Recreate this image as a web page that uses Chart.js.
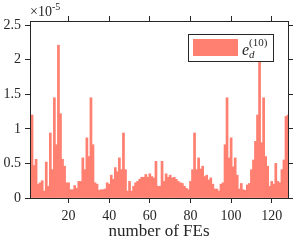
<!DOCTYPE html>
<html>
<head>
<meta charset="utf-8">
<script src="https://cdn.jsdelivr.net/npm/chart.js@4"></script>
<style>
  html, body { margin: 0; padding: 0; background: #fff; }
  canvas { display: block; }
</style>
</head>
<body>
<canvas id="chart" width="294" height="243"></canvas>
<script>
/* error per FE, in units of 1e-5 */
const errValues = [
  1.18, 1.20, 0.47, 0.56, 0.20, 0.22, 0.25, 0.10, 0.52, 0.17,
  0.94, 0.41, 1.45, 0.77, 2.21, 1.22, 0.56, 0.46, 0.22, 0.22,
  0.12, 0.12, 0.18, 0.14, 0.24, 0.24, 0.58, 0.41, 0.87, 0.60,
  1.45, 0.77, 0.22, 0.20, 0.11, 0.12, 0.12, 0.13, 0.22, 0.20,
  0.33, 0.27, 0.44, 0.38, 0.58, 0.41, 0.94, 0.41, 0.10, 0.24,
  0.10, 0.17, 0.22, 0.24, 0.27, 0.30, 0.30, 0.34, 0.30, 0.35,
  0.31, 0.29, 0.53, 0.17, 0.17, 0.53, 0.24, 0.35, 0.30, 0.33,
  0.29, 0.30, 0.27, 0.24, 0.22, 0.21, 0.17, 0.14, 0.12, 0.24,
  0.41, 0.94, 0.41, 0.58, 0.42, 0.46, 0.31, 0.33, 0.26, 0.29,
  0.20, 0.13, 0.13, 0.10, 0.20, 0.22, 0.77, 1.45, 0.58, 0.87,
  0.45, 0.58, 0.33, 0.13, 0.21, 0.12, 0.11, 0.19, 0.21, 0.41,
  0.55, 0.82, 1.20, 2.20, 0.80, 1.45, 0.60, 0.46, 0.17, 0.24,
  0.20, 0.50, 0.24, 0.22, 0.41, 0.55, 1.18, 1.20
];
const feIndex = errValues.map((v, i) => i + 1);
const xTicks = [20, 40, 60, 80, 100, 120];
const yTicks = [0, 0.5, 1, 1.5, 2, 2.5];
const xRange = [1, 128];
const yRange = [0, 2.56];

const barColor = 'rgb(255,127,112)';
const axisColor = '#262626';

Chart.defaults.font.family = '"Liberation Serif", "Times New Roman", serif';
Chart.defaults.font.size = 14;
Chart.defaults.color = axisColor;

function setTicks(list) {
    return scale => { scale.ticks = list.map(v => ({ value: v })); };
}

// shared look for the four sides of the box
function sideAxis(extra) {
    return Object.assign({
        type: 'linear',
        offset: false,
        grid: { drawOnChartArea: false, offset: false, tickLength: 5, color: axisColor, lineWidth: 1 },
        border: { display: true, color: axisColor, width: 1, z: 1 }
    }, extra);
}

// legend and the x10^-5 exponent label
const overlay = {
    id: 'overlay',
    afterDraw(chart) {
        const ctx = chart.ctx;
        const a = chart.chartArea;
        const w = 85, h = 27;
        const x = Math.round(a.right - 15 - w), y = Math.round(a.top + 13);
        ctx.save();
        ctx.fillStyle = '#fff';
        ctx.fillRect(x, y, w, h);
        ctx.strokeStyle = axisColor;
        ctx.lineWidth = 1;
        ctx.strokeRect(x + 0.5, y + 0.5, w, h);
        ctx.fillStyle = barColor;
        ctx.fillRect(x + 5, y + 5, 45, 17);

        ctx.fillStyle = axisColor;
        ctx.textBaseline = 'alphabetic';
        ctx.font = 'italic 16px "Liberation Serif"';
        ctx.fillText('e', x + 54, y + 21);
        ctx.font = 'italic 11px "Liberation Serif"';
        ctx.fillText('d', x + 61, y + 24);
        ctx.font = '11px "Liberation Serif"';
        ctx.fillText('(10)', x + 61, y + 12);

        ctx.font = '14px "Liberation Serif"';
        ctx.fillText('\u00d710', a.left, 16);
        ctx.font = '10px "Liberation Serif"';
        ctx.fillText('-5', a.left + 22, 10);
        ctx.restore();
    }
};

new Chart(document.getElementById('chart'), {
    type: 'bar',
    data: {
        datasets: [{
            label: 'e_d^(10)',
            data: feIndex.map((x, i) => ({ x: x, y: errValues[i] })),
            backgroundColor: barColor,
            borderWidth: 0,
            barPercentage: 1,
            categoryPercentage: 1,
            clip: 0
        }]
    },
    options: {
        responsive: false,
        devicePixelRatio: 1,
        animation: false,
        layout: { padding: 0 },
        plugins: { legend: { display: false }, tooltip: { enabled: false } },
        scales: {
            x: sideAxis({
                position: 'bottom', min: xRange[0], max: xRange[1],
                afterBuildTicks: setTicks(xTicks),
                afterFit: s => { s.height = 45; },
                ticks: { padding: 5, maxRotation: 0, autoSkip: false, callback: v => String(v) },
                title: { display: true, text: 'number of FEs', font: { size: 17 }, padding: { top: 0, bottom: 1 } }
            }),
            x2: sideAxis({
                position: 'top', min: xRange[0], max: xRange[1],
                afterBuildTicks: setTicks(xTicks),
                afterFit: s => { s.height = 21; },
                ticks: { display: false }
            }),
            y: sideAxis({
                position: 'left', min: yRange[0], max: yRange[1],
                afterBuildTicks: setTicks(yTicks),
                afterFit: s => { s.width = 30; },
                ticks: { padding: 4, callback: v => String(v) }
            }),
            y2: sideAxis({
                position: 'right', min: yRange[0], max: yRange[1],
                afterBuildTicks: setTicks(yTicks),
                afterFit: s => { s.width = 6; },
                ticks: { display: false }
            })
        }
    },
    plugins: [overlay]
});
</script>
</body>
</html>
